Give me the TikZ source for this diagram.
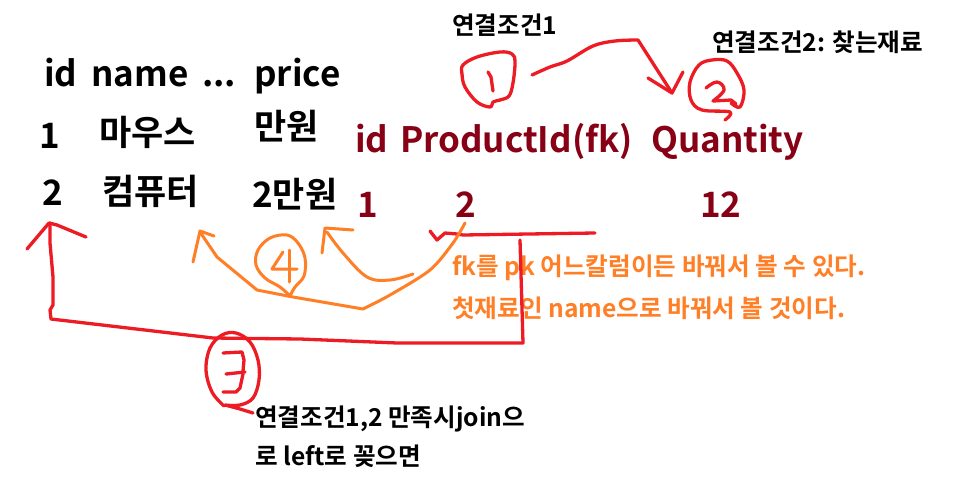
\documentclass[tikz,border=0pt]{standalone}
\usepackage{fontspec}
\setmainfont{Noto Sans CJK KR}[BoldFont={Noto Sans CJK KR Bold}]
\definecolor{pred}{RGB}{237,28,36}
\definecolor{porange}{RGB}{255,127,39}
\definecolor{pdark}{RGB}{136,0,21}
\begin{document}
\begin{tikzpicture}[x=1pt,y=-1pt,line cap=round,line join=round,
  big/.style={font=\fontsize{35}{40}\selectfont\bfseries,anchor=base west,inner sep=0pt},
  small/.style={font=\fontsize{24.6}{28}\selectfont\bfseries,anchor=base west,inner sep=0pt},
  redink/.style={draw=pred,line width=3.3pt},
  orink/.style={draw=porange,line width=3pt}]
\useasboundingbox[fill=white] (0,0) rectangle (953,495);
% left table
\node[big] (h1) at (44,87) {id};
\node[big] (h2) at (91,87) {name};
\node[big] (h3) at (202,87) {...};
\node[big] (h4) at (254,87) {price};
\node[big] (r1a) at (39,148) {1};
\node[big] (r1b) at (99,145) {마우스};
\node[big] (r1c) at (254,139) {만원};
\node[big] (r2a) at (42,205) {2};
\node[big] (r2b) at (102,204) {컴퓨터};
\node[big] (r2c) at (252,207) {2만원};
% right table
\node[big,text=pdark] (q1) at (355,152) {id};
\node[big,text=pdark] (q2) at (400,152) {ProductId(fk)};
\node[big,text=pdark] (q3) at (651,152) {Quantity};
\node[big,text=pdark] (s1) at (357,217) {1};
\node[big,text=pdark] (s2) at (455,217) {2};
\node[big,text=pdark] (s3) at (700,217) {12};
% notes
\node[small] (c1) at (452,35) {연결조건1};
\node[small] (c2) at (712,52) {연결조건2: 찾는재료};
\node[small,text=porange] (o1) at (452,275) {fk를 pk 어느칼럼이든 바꿔서 볼 수 있다.};
\node[small,text=porange] (o2) at (452,317) {첫재료인 name으로 바꿔서 볼 것이다.};
\node[small] (b1) at (255,426) {연결조건1,2 만족시join으};
\node[small] (b2) at (255,465) {로 left로 꽂으면};
% circle 1
\draw[redink] plot[smooth cycle,tension=0.6] coordinates {(463,65) (477,57) (500,52) (512,54) (515,62) (513,83) (509,96) (500,100) (493,102) (490,107) (477,102) (465,87) (462,74)};
\draw[redink] (488,72) -- (491,77) -- (493,91);
% arrow 1 -> 2
\draw[redink] plot[smooth,tension=0.6] coordinates {(532,75) (550,67) (567,61) (593,46) (615,41) (638,40)} -- (672,93);
\draw[redink] (648,78) -- (672,93) -- (683,72);
% circle 2
\draw[redink] plot[smooth,tension=0.6] coordinates {(731,103) (740,107) (744,90) (737,73) (727,61) (712,60) (699,65) (690,82) (691,100) (702,110) (730,112) (725,120)};
\draw[redink] plot[smooth,tension=0.7] coordinates {(706,88) (717,82) (724,90) (713,101)} -- (731,100) -- (736,104);
% red bracket and long arrow
\draw[redink] (430,231) -- (437,240) -- (445,233) -- (457,234) -- (463,235) -- (595,233);
\draw[redink] (520,240) -- (523,343) -- (397,343) -- (300,339) -- (213,338) -- (51,319) -- (50,310) -- (53,305) -- (53,277) -- (50,243) -- (50,223);
\draw[redink] (27,249) -- (49,223) -- (57,225) -- (86,237);
% circle 3
\draw[redink] plot[smooth,tension=0.6] coordinates {(224,406) (212,392) (206,370) (210,348) (222,335) (236,333) (250,342) (258,360) (259,380) (253,398) (240,405) (225,405)} -- (240,409) -- (253,413);
\draw[redink] (223,353) -- (242,352) -- (244,360) -- (243,371);
\draw[redink] (226,374) -- (245,372);
\draw[redink] (243,374) -- (240,388) -- (236,392) -- (223,392);
% orange strokes
\draw[orink] plot[smooth,tension=0.5] coordinates {(465,223) (453,243) (430,270) (390,295) (363,309)} -- (293,297) -- (257,290) -- (217,257) -- (200,232);
\draw[orink] (193,262) -- (200,231) -- (214,236);
\draw[orink] plot[smooth,tension=0.6] coordinates {(413,274) (390,280) (367,277) (343,253) (327,232)};
\draw[orink] (322,253) -- (325,228) -- (353,230);
\draw[orink] plot[smooth,tension=0.6] coordinates {(290,296) (295,287) (304,276) (305,258) (298,243) (287,235) (270,238) (258,250) (256,265) (265,278) (280,287) (290,296)};
\draw[orink] (289,250) -- (289,282);
\draw[orink] (283,252) -- (272,269) -- (297,269);
\end{tikzpicture}
\end{document}
